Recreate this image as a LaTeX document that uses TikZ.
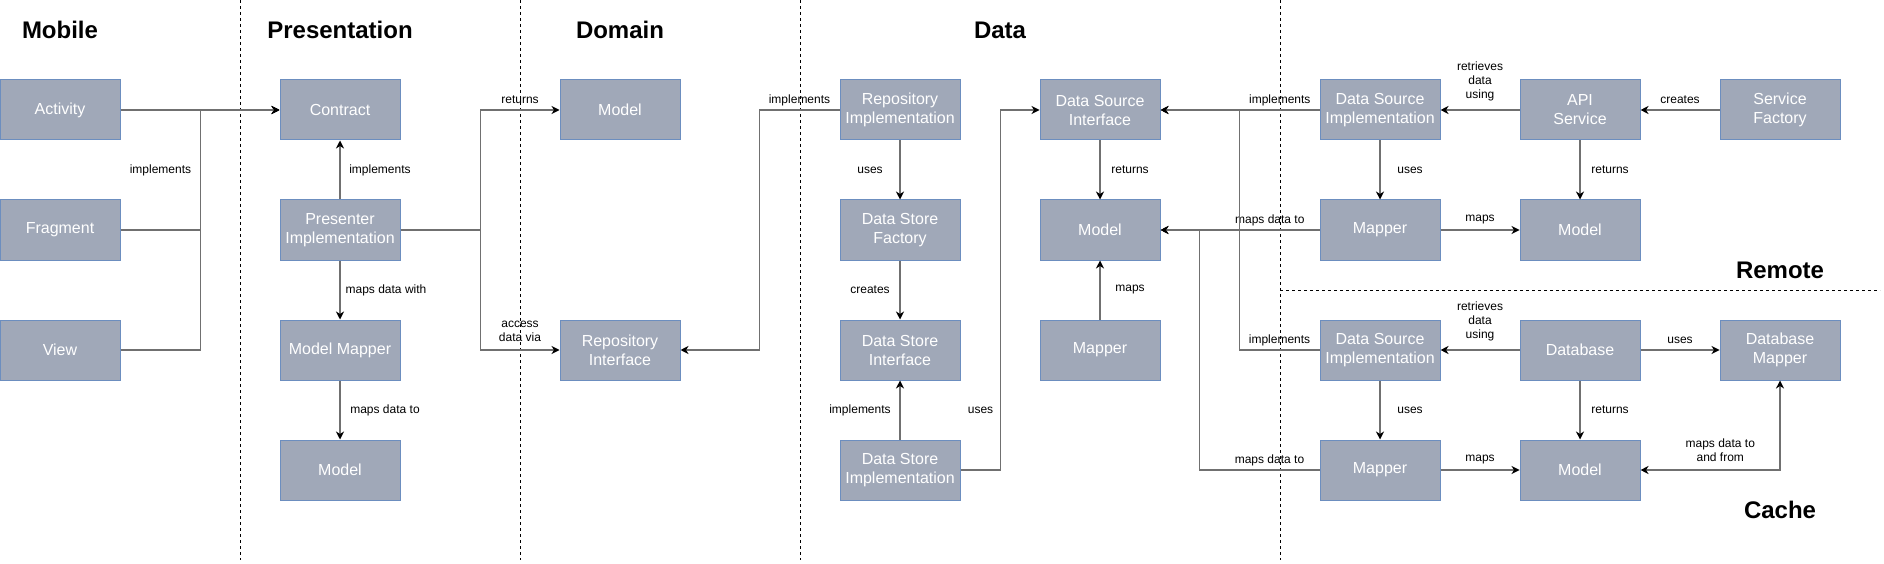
\documentclass[tikz,border=0pt]{standalone}
\usepackage{fontspec}
\setmainfont{Liberation Sans}
\usetikzlibrary{arrows.meta}

\definecolor{boxfill}{RGB}{160,168,184}
\definecolor{boxline}{RGB}{108,142,191}
\definecolor{wire}{RGB}{112,112,112}

\tikzset{
    box/.style={rectangle, draw=boxline, fill=boxfill, line width=1pt,
        minimum width=120pt, minimum height=60pt, inner sep=2pt, align=center,
        text=white, font=\fontsize{16}{19}\selectfont},
    layer/.style={font=\fontsize{24}{29}\selectfont\bfseries},
    lbl/.style={font=\fontsize{12}{14}\selectfont, align=center, inner sep=0pt},
    conn/.style={draw=wire, line width=1.3pt},
    divider/.style={dash pattern=on 3pt off 3pt, line width=1pt}
}

\begin{document}
\begin{tikzpicture}[x=1pt, y=-1pt]
\useasboundingbox (0,0) rectangle (1884,564);

% layer borders
\draw[divider] (240,0) -- (240,560);
\draw[divider] (520,0) -- (520,560);
\draw[divider] (800,0) -- (800,560);
\draw[divider] (1280,0) -- (1280,560);
\draw[divider] (1280,290) -- (1880,290);

\node[layer] (t-mobile) at (60,30) {Mobile};
\node[layer] (t-presentation) at (340,30) {Presentation};
\node[layer] (t-domain) at (620,30) {Domain};
\node[layer] (t-data) at (1000,30) {Data};
\node[layer] (t-remote) at (1780,270) {Remote};
\node[layer] (t-cache) at (1780,510) {Cache};

\begin{scope}[every node/.style={box}]
    \node (activity) at (60,110) {Activity};
    \node (fragment) at (60,230) {Fragment};
    \node (view) at (60,350) {View};

    \node (contract) at (340,110) {Contract};
    \node (presenter) at (340,230) {Presenter\\Implementation};
    \node (model-mapper) at (340,350) {Model Mapper};
    \node (pres-model) at (340,470) {Model};

    \node (dom-model) at (620,110) {Model};
    \node (repo-if) at (620,350) {Repository\\Interface};

    \node (repo-impl) at (900,110) {Repository\\Implementation};
    \node (store-factory) at (900,230) {Data Store\\Factory};
    \node (store-if) at (900,350) {Data Store\\Interface};
    \node (store-impl) at (900,470) {Data Store\\Implementation};

    \node (source-if) at (1100,110) {Data Source\\Interface};
    \node (data-model) at (1100,230) {Model};
    \node (data-mapper) at (1100,350) {Mapper};

    \node (remote-source) at (1380,110) {Data Source\\Implementation};
    \node (remote-mapper) at (1380,230) {Mapper};
    \node (api-service) at (1580,110) {API\\Service};
    \node (remote-model) at (1580,230) {Model};
    \node (service-factory) at (1780,110) {Service\\Factory};

    \node (cache-source) at (1380,350) {Data Source\\Implementation};
    \node (cache-mapper) at (1380,470) {Mapper};
    \node (database) at (1580,350) {Database};
    \node (db-mapper) at (1780,350) {Database\\Mapper};
    \node (cache-model) at (1580,470) {Model};
\end{scope}

\begin{scope}[>={Stealth[black, length=8pt, width=8pt, inset=2.5pt]}]
    % mobile -> presentation
    \draw[conn,->] (activity.east) -- (contract.west);
    \draw[conn,->] (fragment.east) -- ++(80,0) |- node[lbl, pos=0.25, xshift=-40pt] {implements} (contract.west);
    \draw[conn,->] (view.east) -- ++(80,0) |- (contract.west);

    % presentation
    \draw[conn,->] (presenter) -- node[lbl, midway, xshift=40pt] {implements} (contract);
    \draw[conn,->] (presenter) -- node[lbl, midway, xshift=46pt] {maps data with} (model-mapper);
    \draw[conn,->] (model-mapper) -- node[lbl, midway, xshift=45pt] {maps data to} (pres-model);
    \draw[conn,->] (presenter.east) -- ++(80,0) |- node[lbl, pos=0.75, yshift=10pt] {returns} (dom-model.west);
    \draw[conn,->] (presenter.east) -- ++(80,0) |- node[lbl, pos=0.75, yshift=19pt] {access\\data via} (repo-if.west);

    % data
    \draw[conn,->] (repo-impl.west) -- node[lbl, midway, yshift=10pt] {implements} ++(-80,0) |- (repo-if.east);
    \draw[conn,->] (repo-impl) -- node[lbl, midway, xshift=-30pt] {uses} (store-factory);
    \draw[conn,->] (store-factory) -- node[lbl, midway, xshift=-30pt] {creates} (store-if);
    \draw[conn,->] (store-impl) -- node[lbl, midway, xshift=-40pt] {implements} (store-if);
    \draw[conn,->] (store-impl.east) -- ++(40,0) |- node[lbl, pos=0.0833, xshift=-20pt] {uses} (source-if.west);
    \draw[conn,->] (source-if) -- node[lbl, midway, xshift=30pt] {returns} (data-model);
    \draw[conn,->] (data-mapper) -- node[lbl, midway, xshift=30pt] {maps} (data-model);

    % remote
    \draw[conn,->] (remote-source) -- node[lbl, pos=0.25, yshift=10pt] {implements} (source-if);
    \draw[conn,->] (remote-mapper) -- node[lbl, pos=0.3125, yshift=10pt] {maps data to} (data-model);
    \draw[conn,->] (api-service) -- node[lbl, midway, yshift=29pt] {retrieves\\data\\using} (remote-source);
    \draw[conn,->] (remote-source) -- node[lbl, midway, xshift=30pt] {uses} (remote-mapper);
    \draw[conn,->] (remote-mapper) -- node[lbl, midway, yshift=10pt] {maps} (remote-model);
    \draw[conn,->] (api-service) -- node[lbl, midway, xshift=30pt] {returns} (remote-model);
    \draw[conn,->] (service-factory) -- node[lbl, midway, yshift=10pt] {creates} (api-service);

    % cache
    \draw[conn,->] (cache-source.west) -- node[lbl, midway, yshift=10pt] {implements} ++(-80,0) |- (source-if.east);
    \draw[conn,->] (cache-mapper.west) -- node[lbl, pos=0.4167, yshift=10pt] {maps data to} ++(-120,0) |- (data-model.east);
    \draw[conn,->] (database) -- node[lbl, midway, yshift=29pt] {retrieves\\data\\using} (cache-source);
    \draw[conn,->] (cache-source) -- node[lbl, midway, xshift=30pt] {uses} (cache-mapper);
    \draw[conn,->] (cache-mapper) -- node[lbl, midway, yshift=10pt] {maps} (cache-model);
    \draw[conn,->] (database) -- node[lbl, midway, xshift=30pt] {returns} (cache-model);
    \draw[conn,->] (database) -- node[lbl, midway, yshift=10pt] {uses} (db-mapper);
    \draw[conn,<->] (cache-model.east) -| node[lbl, pos=0.286, yshift=20pt] {maps data to\\and from} (db-mapper.south);
\end{scope}
\end{tikzpicture}
\end{document}
